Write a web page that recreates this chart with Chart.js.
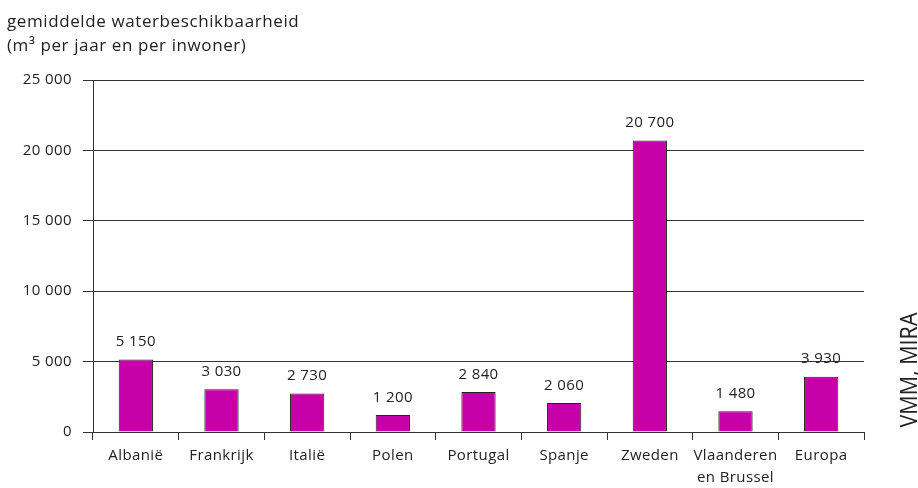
<!DOCTYPE html>
<html>

<head>
    <title>Waterbeschikbaarheid</title>
    <meta charset="utf-8">
    <script src="https://cdn.jsdelivr.net/npm/chart.js"></script>
    <style type="text/css">
        body {
            margin: 0;
            background: white;
        }

        .chart-container {
            position: relative;
            width: 918px;
            height: 488px;
        }
    </style>
</head>

<body>
    <div class="chart-container">
        <canvas id="myChart"></canvas>
    </div>

    <script>
        const landen = ['Albanië', 'Frankrijk', 'Italië', 'Polen', 'Portugal', 'Spanje', 'Zweden', ['Vlaanderen', 'en Brussel'], 'Europa'];
        const waterPerInwoner = [5150, 3030, 2730, 1200, 2840, 2060, 20700, 1480, 3930];
        const yTicks = [0, 5000, 10000, 15000, 20000, 25000];
        const titel = ['gemiddelde waterbeschikbaarheid', '(m³ per jaar en per inwoner)'];
        const bron = 'VMM, MIRA';

        const fontName = '"Open Sans", sans-serif';

        // getal met spatie als duizendtal-scheiding
        function fmt(v) {
            return String(v).replace(/\B(?=(\d{3})+(?!\d))/g, ' ');
        }

        const extraText = {
            id: 'extraText',
            beforeDraw(chart) {
                // wat lucht tussen de letters, zoals in het origineel
                chart.ctx.letterSpacing = '0.4px';
            },
            afterDatasetsDraw(chart) {
                const ctx = chart.ctx;
                const meta = chart.getDatasetMeta(0);
                ctx.save();
                ctx.fillStyle = '#222';
                ctx.font = '15px ' + fontName;
                ctx.textAlign = 'center';
                ctx.textBaseline = 'bottom';
                meta.data.forEach((bar, i) => {
                    ctx.fillText(fmt(waterPerInwoner[i]), bar.x, bar.y - 10);
                });

                // titel linksboven
                ctx.textAlign = 'left';
                ctx.textBaseline = 'alphabetic';
                ctx.letterSpacing = '0.6px';
                ctx.font = '17px ' + fontName;
                ctx.fillText(titel[0], 7, 27);
                ctx.fillText(titel[1], 7, 51);

                // bron, verticaal rechts
                ctx.letterSpacing = '0px';
                ctx.translate(917, 370);
                ctx.rotate(-Math.PI / 2);
                ctx.textAlign = 'center';
                ctx.font = '24px ' + fontName;
                ctx.fillText(bron, 0, 0, 115);
                ctx.restore();
            }
        };

        var ctx = document.getElementById('myChart').getContext('2d');
        var myChart = new Chart(ctx, {
            type: 'bar',
            data: {
                labels: landen,
                datasets: [{
                    data: waterPerInwoner,
                    backgroundColor: '#c600a9',
                    borderColor: '#222',
                    borderWidth: 1,
                    borderSkipped: 'bottom',
                    categoryPercentage: 0.8,
                    barPercentage: 0.5
                }]
            },
            options: {
                responsive: true,
                maintainAspectRatio: false,
                animation: false,
                layout: {
                    padding: { top: 80, right: 54, left: 0, bottom: 0 }
                },
                plugins: {
                    legend: { display: false },
                    tooltip: { enabled: false }
                },
                scales: {
                    x: {
                        afterFit(scale) { scale.height = 56; },
                        grid: {
                            offset: true,
                            drawOnChartArea: false,
                            drawTicks: true,
                            tickLength: 8,
                            color: '#333'
                        },
                        border: { color: '#333' },
                        ticks: {
                            color: '#222',
                            font: { family: fontName, size: 15, lineHeight: 1.5 },
                            padding: 4,
                            maxRotation: 0
                        }
                    },
                    y: {
                        min: 0,
                        max: 25000,
                        afterFit(scale) { scale.width = 93; },
                        afterBuildTicks(scale) {
                            scale.ticks = yTicks.map(v => ({ value: v }));
                        },
                        grid: {
                            color: '#333',
                            tickLength: 10
                        },
                        border: { color: '#333' },
                        ticks: {
                            color: '#222',
                            font: { family: fontName, size: 15 },
                            padding: 11,
                            callback: v => fmt(v)
                        }
                    }
                }
            },
            plugins: [extraText]
        });
    </script>
</body>

</html>
